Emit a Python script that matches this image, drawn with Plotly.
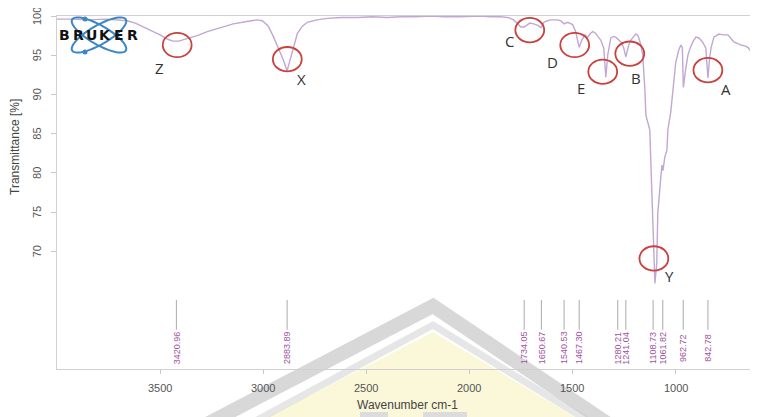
import math
import plotly.graph_objects as go

# ---------------- data ----------------
wavenumber = [4000, 3930, 3850, 3760, 3660, 3620, 3582, 3540, 3500, 3460, 3436, 3410, 3369, 3320,
              3271, 3210, 3145, 3080, 3030, 3004, 2975, 2951, 2925, 2902, 2884, 2870, 2854, 2834,
              2810, 2786, 2740, 2689, 2620, 2540, 2470, 2400, 2330, 2260, 2190, 2120, 2050, 1990,
              1945, 1900, 1848, 1810, 1785, 1765, 1751, 1734, 1720, 1707, 1688, 1668, 1652, 1639,
              1620, 1605, 1575, 1557, 1540, 1523, 1499, 1484, 1476, 1467, 1455, 1440, 1426, 1412,
              1401, 1388, 1377, 1362, 1348, 1338, 1329, 1314, 1300, 1290, 1265, 1252, 1241, 1233,
              1227, 1215, 1207, 1193, 1185, 1178, 1168, 1159, 1149, 1144, 1125, 1115, 1105, 1100,
              1091, 1086, 1071, 1066, 1061, 1052, 1042, 1037, 1023, 1010, 999, 985, 974, 967,
              962, 952, 940, 928, 916, 901, 887, 876, 867, 853, 843, 835, 828, 814, 800, 790,
              770, 746, 730, 717, 700, 683, 665, 649, 635, 620, 605, 600]
transmittance = [99.6, 99.6, 99.5, 99.6, 99.4, 99.1, 98.6, 98.1, 97.6, 97.0, 96.8, 96.8, 97.1, 97.5,
                 98.0, 98.5, 99.0, 99.3, 99.5, 99.4, 98.7, 97.4, 95.8, 94.4, 93.0, 94.3, 95.7, 97.8,
                 98.7, 99.2, 99.5, 99.7, 99.8, 99.8, 99.9, 99.8, 99.9, 99.9, 100.0, 99.9, 99.9, 100.0,
                 100.0, 99.9, 99.9, 99.8, 99.5, 99.0, 98.6, 98.6, 98.9, 99.1, 99.0, 98.8, 98.5, 99.2,
                 99.4, 99.5, 99.5, 99.4, 99.0, 99.2, 98.9, 98.0, 97.0, 96.0, 96.9, 97.6, 97.3, 97.8,
                 98.0, 97.8, 97.4, 96.9, 95.9, 92.2, 95.0, 97.2, 97.4, 97.3, 96.7, 96.0, 94.8, 95.6,
                 96.3, 97.0, 97.3, 97.7, 97.6, 97.2, 96.3, 95.0, 90.8, 87.4, 85.5, 76.9, 68.5, 65.9,
                 68.5, 74.9, 79.5, 81.0, 80.3, 82.0, 82.9, 85.5, 87.8, 91.5, 94.1, 95.6, 96.3, 96.0,
                 90.9, 93.0, 95.0, 96.0, 96.7, 97.3, 97.2, 96.9, 96.6, 95.9, 92.1, 94.5, 95.9, 97.3,
                 97.6, 97.7, 97.6, 97.6, 97.1, 96.7, 96.5, 96.3, 96.2, 96.0, 95.5, 95.0, 94.3, 94.1]

peak_wavenumbers = [3420.96, 2883.89, 1734.05, 1650.67, 1540.53, 1467.30,
                    1280.21, 1241.04, 1108.73, 1061.82, 962.72, 842.78]
peak_labels = ["3420.96", "2883.89", "1734.05", "1650.67", "1540.53", "1467.30",
               "1280.21", "1241.04", "1108.73", "1061.82", "962.72", "842.78"]

marker_names = ["Z", "X", "C", "D", "E", "B", "A", "Y"]
marker_circle_wn = [3417, 2883, 1707, 1489, 1353, 1222, 843, 1105]
marker_circle_t = [96.3, 94.5, 98.2, 96.3, 92.9, 95.2, 93.1, 69.1]
marker_label_wn = [3505, 2815, 1805, 1596, 1460, 1193, 756, 1027]
marker_label_t = [93.4, 92.0, 96.8, 94.1, 90.8, 92.1, 90.7, 66.8]

x_ticks = [3500, 3000, 2500, 2000, 1500, 1000]
x_tick_labels = ["3500", "3000", "2500", "2000", "1500", "1000"]
y_ticks = [70, 75, 80, 85, 90, 95, 100]
y_tick_labels = ["70", "75", "80", "85", "90", "95", "100"]

# ---------------- layout geometry (page pixels; page has an 8px body margin) ----------------
OFF = 8
W, H = 758, 417
PL, PR, PT, PB = 57, 758, 16, 369          # plot area in page pixels
PW, PH = PR - PL, PB - PT


def px(x, y):
    return (x - PL) / PW, (PB - y) / PH


def path_from(points, close=True):
    s = ""
    for i, (x, y) in enumerate(points):
        a, b = px(x, y)
        s += ("M" if i == 0 else "L") + f"{a:.5f},{b:.5f} "
    return s + ("Z" if close else "")


fig = go.Figure()

# spectrum
fig.add_trace(go.Scatter(x=wavenumber, y=transmittance, mode="lines",
                         line=dict(color="#c3a6d3", width=1.4), hoverinfo="skip"))

# peak marker lines
lx, ly = [], []
for w in peak_wavenumbers:
    lx += [w, w, None]
    ly += [63.8, 60.0, None]
fig.add_trace(go.Scatter(x=lx, y=ly, mode="lines", line=dict(color="#aaaaaa", width=1),
                         hoverinfo="skip"))

shapes = []
# watermark (decorative)
shapes.append(dict(type="path", xref="paper", yref="paper", layer="below",
                   path=path_from([(262, 420), (433, 332), (580, 420)]),
                   fillcolor="#fbf8da", line=dict(width=0)))
shapes.append(dict(type="path", xref="paper", yref="paper", layer="below",
                   path=path_from([(248, 425), (433, 325), (595, 425)], close=False),
                   line=dict(color="rgba(205,205,205,0.5)", width=7)))
shapes.append(dict(type="path", xref="paper", yref="paper", layer="below",
                   path=path_from([(205, 425), (433, 306), (610, 425)], close=False),
                   line=dict(color="rgba(200,200,200,0.7)", width=14)))
for (x0, x1) in [(360, 388), (423, 467)]:
    a0, b0 = px(x0, 417)
    a1, b1 = px(x1, 412)
    shapes.append(dict(type="rect", xref="paper", yref="paper", layer="below",
                       x0=a0, x1=a1, y0=b0, y1=b1, fillcolor="#dcdcdc", line=dict(width=0)))

# Bruker logo ellipses
cx, cy, ra, rb = 99, 35, 31, 9.5
for ang in (30, -30):
    t = math.radians(ang)
    pts = []
    for k in range(73):
        th = 2 * math.pi * k / 72
        ex, ey = ra * math.cos(th), rb * math.sin(th)
        pts.append((cx + ex * math.cos(t) - ey * math.sin(t), cy + ex * math.sin(t) + ey * math.cos(t)))
    shapes.append(dict(type="path", xref="paper", yref="paper", layer="above",
                       path=path_from(pts), line=dict(color="#3b86c6", width=2)))
for (dx, dy) in [(85, 19), (85, 52)]:
    a0, b0 = px(dx - 2.5, dy + 2.5)
    a1, b1 = px(dx + 2.5, dy - 2.5)
    shapes.append(dict(type="circle", xref="paper", yref="paper", layer="above",
                       x0=a0, x1=a1, y0=b0, y1=b1, fillcolor="#3b86c6", line=dict(width=0)))

# red circles
for w, t in zip(marker_circle_wn, marker_circle_t):
    shapes.append(dict(type="circle", xref="x", yref="y", layer="above",
                       x0=w + 70, x1=w - 70, y0=t - 1.55, y1=t + 1.55,
                       line=dict(color="#c8413c", width=1.8)))

annotations = []
C = dict(xanchor="center", yanchor="middle", showarrow=False)
TICKFONT = dict(family="Liberation Sans, Arial", size=11, color="#555555")
# tick labels (placed on the axes' own scales)
_, ty = px(0, 388)
for v, s in zip(x_ticks, x_tick_labels):
    annotations.append(dict(x=v, y=ty, xref="x", yref="paper", text=s, font=TICKFONT, **C))
tx, _ = px(37, 0)
for v, s in zip(y_ticks, y_tick_labels):
    annotations.append(dict(x=tx, y=v, xref="paper", yref="y", text=s, textangle=-90,
                            font=TICKFONT, **C))
# peak label texts
for w, s in zip(peak_wavenumbers, peak_labels):
    annotations.append(dict(x=w, y=57.7, xref="x", yref="y", text=s, textangle=-90,
                            font=dict(family="Liberation Sans, Arial", size=9, color="#a052a0"), **C))
# marker letters
for n, w, t in zip(marker_names, marker_label_wn, marker_label_t):
    annotations.append(dict(x=w, y=t, xref="x", yref="y", text=n,
                            font=dict(family="Open Sans, Liberation Sans", size=15, color="#333333"), **C))
# BRUKER letters
for i, ch in enumerate("BRUKER"):
    a, b = px(64.75 + 13.5 * i, 35)
    annotations.append(dict(x=a, y=b, xref="paper", yref="paper", text=f"<b>{ch}</b>",
                            font=dict(family="DejaVu Sans", size=14, color="#111111"), **C))
# axis titles
a, b = px(15, 147)
annotations.append(dict(x=a, y=b, xref="paper", yref="paper", text="Transmittance [%]",
                        textangle=-90,
                        font=dict(family="Liberation Sans, Arial", size=12, color="#444444"), **C))
a, b = px(407, 405)
annotations.append(dict(x=a, y=b, xref="paper", yref="paper", text="Wavenumber cm-1",
                        font=dict(family="Liberation Sans, Arial", size=12, color="#444444"), **C))

fig.update_layout(
    width=W - OFF, height=H - OFF,
    margin=dict(l=PL - OFF, r=W - PR, t=PT - OFF, b=H - PB, autoexpand=False),
    paper_bgcolor="white", plot_bgcolor="rgba(0,0,0,0)",
    showlegend=False,
    shapes=shapes, annotations=annotations,
    xaxis=dict(range=[4000, 600], tickvals=x_ticks, showticklabels=False,
               automargin=False,
               showgrid=False, zeroline=False, showline=True, linecolor="#d0d0d0", linewidth=1,
               mirror=True, ticks="outside", ticklen=4, tickcolor="#c8c8c8"),
    yaxis=dict(range=[55, 100], tickvals=y_ticks, showticklabels=False,
               automargin=False,
               showgrid=False, zeroline=False, showline=True,
               linecolor="#d0d0d0", linewidth=1, ticks="outside", ticklen=5, tickcolor="#c8c8c8"),
)

fig.write_html("out.html")
